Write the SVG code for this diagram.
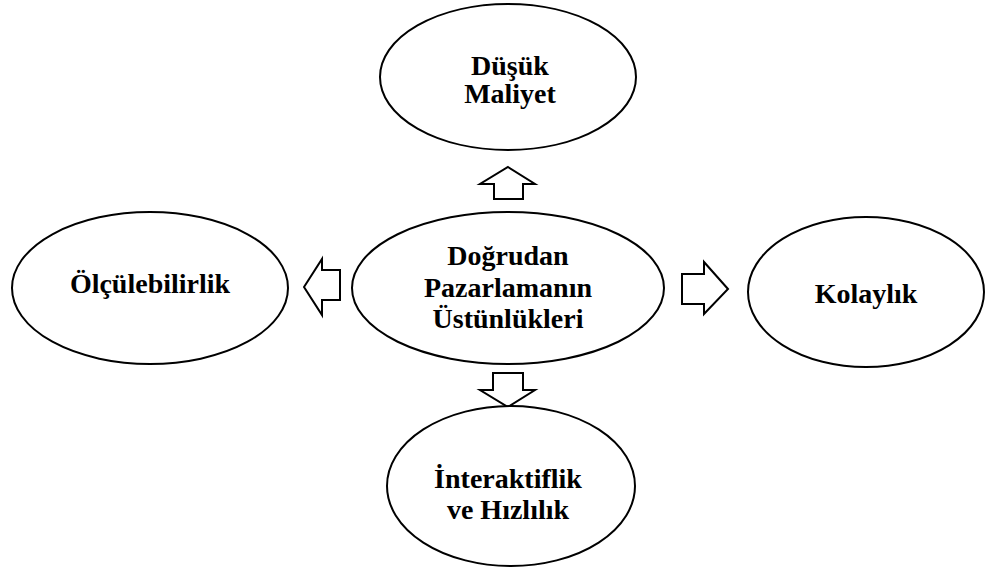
<svg xmlns="http://www.w3.org/2000/svg" width="987" height="575" viewBox="0 0 987 575">
  <style>
    .node ellipse { fill: #ffffff; stroke: #000000; stroke-width: 2; }
    .node text { font-family: "Liberation Serif", "Times New Roman", serif; font-weight: bold; font-size: 28px; fill: #000000; text-anchor: middle; }
    .arrow { fill: #ffffff; stroke: #000000; stroke-width: 2; stroke-linejoin: miter; }
  </style>
  <rect width="987" height="575" fill="#ffffff"/>

  <!-- block arrows pointing outward from the centre -->
  <g id="connectors">
    <polygon class="arrow" points="508,167 535,184 523,184 523,199 494,199 494,184 480,184"/>
    <polygon class="arrow" points="304,287 322,259 322,270 340,270 340,300 322,300 322,315"/>
    <polygon class="arrow" points="728,289 704,262 704,274 682,274 682,304 704,304 704,314"/>
    <polygon class="arrow" points="508,407 535,390 523,390 523,373 493,373 493,390 480,390"/>
  </g>

  <g id="center" class="node">
    <ellipse cx="508" cy="288" rx="156" ry="76"/>
    <text x="508" y="265">Doğrudan</text>
    <text x="508" y="297">Pazarlamanın</text>
    <text x="508" y="328">Üstünlükleri</text>
  </g>

  <g id="dusuk-maliyet" class="node">
    <ellipse cx="508" cy="77" rx="128" ry="73"/>
    <text x="510" y="75">Düşük</text>
    <text x="510" y="103">Maliyet</text>
  </g>

  <g id="olculebilirlik" class="node">
    <ellipse cx="150" cy="288" rx="138" ry="76"/>
    <text x="150" y="293">Ölçülebilirlik</text>
  </g>

  <g id="kolaylik" class="node">
    <ellipse cx="866" cy="292" rx="118" ry="75"/>
    <text x="866" y="303">Kolaylık</text>
  </g>

  <g id="interaktiflik" class="node">
    <ellipse cx="511" cy="486" rx="124" ry="80"/>
    <text x="508" y="488">İnteraktiflik</text>
    <text x="508" y="519">ve Hızlılık</text>
  </g>
</svg>
